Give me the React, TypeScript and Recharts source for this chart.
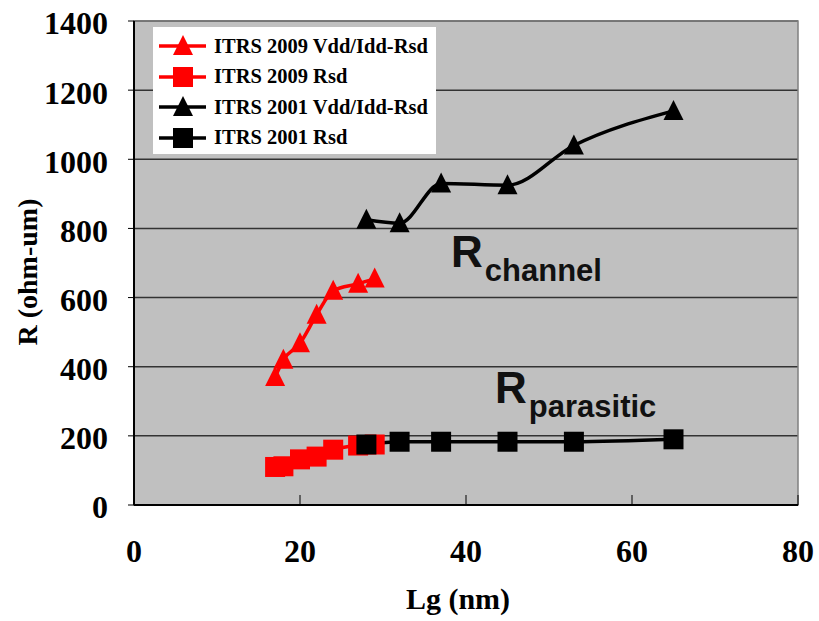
import React from 'react';
import {
  ComposedChart,
  Line,
  XAxis,
  YAxis,
  CartesianGrid,
  ReferenceArea,
  ReferenceDot,
} from 'recharts';

// Lg (nm) vs R (ohm-um)
const itrs2009Lg = [17, 18, 20, 22, 24, 27, 29];
const itrs2009Total = [370, 420, 468, 550, 620, 640, 655];
const itrs2009Rsd = [110, 112, 132, 140, 160, 172, 175];

const itrs2001Lg = [28, 32, 37, 45, 53, 65];
const itrs2001Total = [825, 815, 930, 925, 1040, 1140];
const itrs2001Rsd = [175, 183, 183, 183, 183, 190];

const xTicks = [0, 20, 40, 60, 80];
const yTicks = [0, 200, 400, 600, 800, 1000, 1200, 1400];

const seriesNames = [
  'ITRS 2009 Vdd/Idd-Rsd',
  'ITRS 2009 Rsd',
  'ITRS 2001 Vdd/Idd-Rsd',
  'ITRS 2001 Rsd',
];
const seriesColors = ['#FF0000', '#FF0000', '#000000', '#000000'];
const seriesShapes = ['triangle', 'square', 'triangle', 'square'];

const toRows = (xs: number[], ys: number[]) => xs.map((x, i) => ({ lg: x, r: ys[i] }));

const serif = '"Liberation Serif", "Times New Roman", serif';
const sans = '"Liberation Sans", Arial, sans-serif';

const Marker = ({ cx, cy, shape, color }: any) => {
  if (cx == null || cy == null) return null;
  if (shape === 'triangle') {
    return (
      <polygon
        points={`${cx},${cy - 11} ${cx - 10},${cy + 9} ${cx + 10},${cy + 9}`}
        fill={color}
      />
    );
  }
  return <rect x={cx - 10} y={cy - 10} width={20} height={20} fill={color} />;
};

const makeDot = (shape: string, color: string) => (props: any) => (
  <Marker key={`${props.index}`} cx={props.cx} cy={props.cy} shape={shape} color={color} />
);

const XTick = ({ x, y, payload }: any) => (
  <g>
    {payload.value !== 0 && <line x1={x} x2={x} y1={y} y2={y - 10} stroke="#000" strokeWidth={1} />}
    <text x={x} y={y + 57} textAnchor="middle" fontFamily={serif} fontWeight="bold" fontSize={32} fill="#000">
      {payload.value}
    </text>
  </g>
);

const LegendBox = () => (
  <div
    style={{
      position: 'absolute',
      left: 153,
      top: 27,
      background: '#fff',
      width: 283,
      height: 127,
      boxSizing: 'border-box',
      padding: '4px 0 0 6px',
    }}
  >
    {seriesNames.map((name, i) => (
      <div key={name} style={{ display: 'flex', alignItems: 'center', height: 30.5 }}>
        <svg width={51} height={24} style={{ marginRight: 4 }}>
          <line x1={0} x2={47} y1={12} y2={12} stroke={seriesColors[i]} strokeWidth={3.5} />
          <Marker cx={24} cy={12} shape={seriesShapes[i]} color={seriesColors[i]} />
        </svg>
        <span
          style={{
            fontFamily: serif,
            fontWeight: 'bold',
            fontSize: 20.5,
            color: '#000',
            whiteSpace: 'nowrap',
          }}
        >
          {name}
        </span>
      </div>
    ))}
  </div>
);

const subLabel = (main: string, sub: string, subDx: number, subDy: number) => (props: any) => {
  const vb = props.viewBox || {};
  const x = (vb.x ?? 0) + (vb.width ?? 0) / 2;
  const y = (vb.y ?? 0) + (vb.height ?? 0) / 2;
  return (
    <text x={x} y={y} fontFamily={sans} fontWeight="bold" fill="#111">
      <tspan fontSize={44}>{main}</tspan>
      <tspan fontSize={31} dx={subDx} dy={subDy}>
        {sub}
      </tspan>
    </text>
  );
};

export default function App() {
  const lines = [
    toRows(itrs2009Lg, itrs2009Total),
    toRows(itrs2009Lg, itrs2009Rsd),
    toRows(itrs2001Lg, itrs2001Total),
    toRows(itrs2001Lg, itrs2001Rsd),
  ];

  return (
    <div style={{ position: 'absolute', left: 0, top: 0, width: 819, height: 621, background: '#fff' }}>
      <ComposedChart width={819} height={621} margin={{ top: 21, right: 21, bottom: 0, left: 0 }}>
        <CartesianGrid vertical={false} fill="#C0C0C0" stroke="#333" strokeWidth={1.5} />
        <ReferenceArea x1={0} x2={80} y1={0} y2={1400} fill="none" stroke="#808080" strokeWidth={1.5} />
        <XAxis
          type="number"
          dataKey="lg"
          domain={[0, 80]}
          ticks={xTicks}
          height={116}
          tickLine={false}
          tickSize={0}
          tickMargin={0}
          axisLine={{ stroke: '#000', strokeWidth: 2 }}
          tick={<XTick />}
          label={{
            content: (p: any) => {
              const vb = p.viewBox || {};
              return (
                <text
                  x={vb.x + vb.width / 2 - 8}
                  y={609}
                  textAnchor="middle"
                  fontFamily={serif}
                  fontWeight="bold"
                  fontSize={30}
                  fill="#000"
                >
                  Lg (nm)
                </text>
              );
            },
          }}
        />
        <YAxis
          type="number"
          domain={[0, 1400]}
          ticks={yTicks}
          width={134}
          tickSize={6}
          tickMargin={20}
          tickLine={{ stroke: '#000' }}
          axisLine={{ stroke: '#000', strokeWidth: 2 }}
          tick={{ fontFamily: serif, fontWeight: 'bold', fontSize: 32, fill: '#000', dy: 2 }}
          label={{
            content: (p: any) => {
              const vb = p.viewBox || {};
              const cy = vb.y + vb.height / 2 + 9;
              return (
                <text
                  x={27}
                  y={cy}
                  transform={`rotate(-90, 27, ${cy})`}
                  textAnchor="middle"
                  dominantBaseline="central"
                  fontFamily={serif}
                  fontWeight="bold"
                  fontSize={28}
                  fill="#000"
                >
                  R (ohm-um)
                </text>
              );
            },
          }}
        />
        {lines.map((rows, i) => (
          <Line
            key={seriesNames[i]}
            data={rows}
            dataKey="r"
            name={seriesNames[i]}
            type="monotone"
            stroke={seriesColors[i]}
            strokeWidth={3.5}
            dot={makeDot(seriesShapes[i], seriesColors[i])}
            activeDot={false}
            isAnimationActive={false}
          />
        ))}
        <ReferenceDot
          x={38.2}
          y={688}
          r={0}
          fill="none"
          stroke="none"
          label={subLabel('R', 'channel', 2, 14)}
        />
        <ReferenceDot
          x={43.5}
          y={295}
          r={0}
          fill="none"
          stroke="none"
          label={subLabel('R', 'parasitic', 2, 14)}
        />
      </ComposedChart>
      <LegendBox />
    </div>
  );
}
